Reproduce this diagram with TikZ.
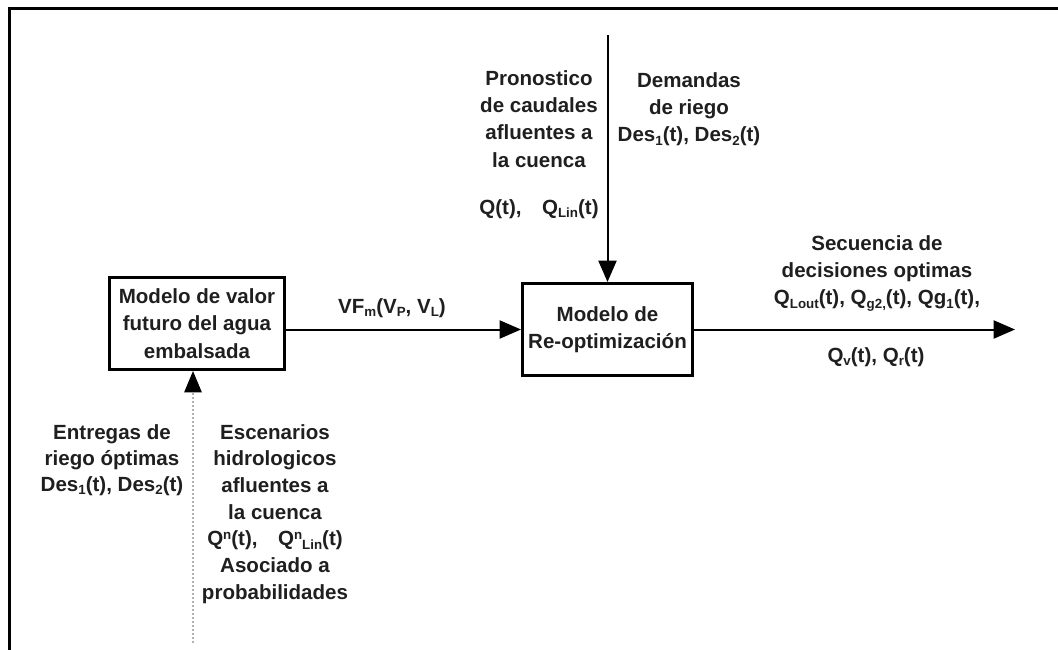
\documentclass[tikz,border=0pt]{standalone}
\usepackage{fontspec}
\setmainfont{Liberation Sans}
\usetikzlibrary{arrows.meta}
\newcommand\lo[1]{\raisebox{-0.3ex}{\fontsize{10}{10}\selectfont #1}}
\newcommand\hi[1]{\raisebox{0.55ex}{\fontsize{10}{10}\selectfont #1}}
\tikzset{
  frame/.style={line width=2.25pt, line cap=rect},
  modelbox/.style={draw, line width=2.25pt, align=center, inner sep=0pt, text=black!88},
  lbl/.style={align=center, inner sep=0pt, text=black!88},
  flow/.style={line width=1.5pt, -{Triangle[length=16pt,width=13.5pt]}},
  scen/.style={line width=1.2pt, gray!60, dash pattern=on 1.5pt off 1.5pt,
    -{Triangle[length=16pt,width=13pt,color=black]}}
}
\begin{document}
\begin{tikzpicture}[x=0.75pt, y=-0.75pt, font=\fontsize{15.4}{20.5}\selectfont\bfseries]
\useasboundingbox (0,0) rectangle (1058,650);
% partial frame
\draw[frame] (1062,8) -- (9,8) -- (9,654);

% boxes
\node[modelbox, minimum width=131.25pt, minimum height=69pt] (box1) at (197,323.5)
  {Modelo de valor\\futuro del agua\\embalsada};
\node[modelbox, minimum width=127.5pt, minimum height=69pt] (box2) at (607.5,329.5)
  {Modelo de\\Re-optimización};

% coordinates for free ends
\coordinate (top) at (607.5,35);
\coordinate (out) at (1015,329.5);
\coordinate (bot) at (193,643);

% connectors
\draw[flow] (box1.east |- box2) -- (box2.west);
\draw[flow] (top) -- (box2.north);
\draw[flow] (box2.east) -- (out);
\draw[scen] (bot) -- (bot |- box1.south);

% labels
\node[lbl, anchor=north] (pron) at (539,70)
  {Pronostico\\de caudales\\afluentes a\\la cuenca\\[14.8pt]Q(t),\hspace{1em}Q\lo{Lin}(t)};
\node[lbl, anchor=north] (dem) at (689,72)
  {Demandas\\de riego\\Des\lo{1}(t), Des\lo{2}(t)};
\node[lbl] (vf) at (392,308) {VF\lo{m}(V\lo{P}, V\lo{L})};
\node[lbl, anchor=north] (sec) at (877,235)
  {Secuencia de\\decisiones optimas\\Q\lo{Lout}(t), Q\lo{g2,}(t), Qg\lo{1}(t),};
\node[lbl] (qv) at (876,357) {Q\lo{v}(t), Q\lo{r}(t)};
\node[lbl, anchor=north, font=\fontsize{15.4}{19.5}\selectfont\bfseries] (ent) at (112,424)
  {Entregas de\\riego óptimas\\Des\lo{1}(t), Des\lo{2}(t)};
\node[lbl, anchor=north, font=\fontsize{15.4}{20}\selectfont\bfseries] (esc) at (275,424)
  {Escenarios\\hidrologicos\\afluentes a\\la cuenca\\Q\hi{n}(t),\hspace{1em}Q\hi{n}\lo{Lin}(t)\\Asociado a\\probabilidades};
\end{tikzpicture}
\end{document}
